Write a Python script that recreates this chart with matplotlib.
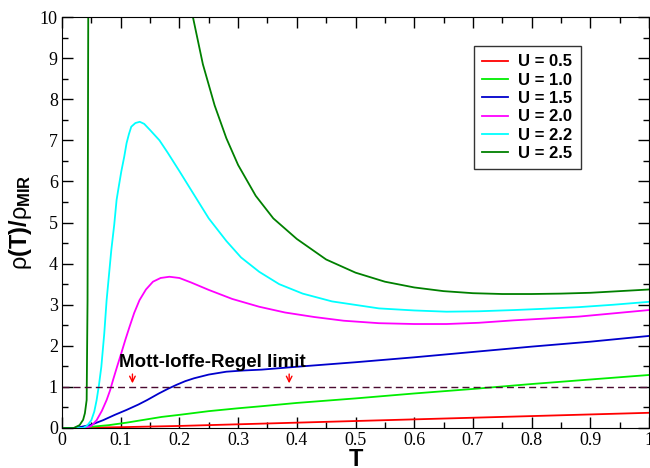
import matplotlib
matplotlib.use("Agg")
import matplotlib.pyplot as plt
from matplotlib.ticker import MultipleLocator

plt.rcParams['font.family'] = ['Liberation Serif', 'DejaVu Serif']
plt.rcParams['mathtext.fontset'] = 'custom'
plt.rcParams['mathtext.rm'] = 'Liberation Sans'
plt.rcParams['mathtext.bf'] = 'Liberation Sans:bold'
plt.rcParams['mathtext.it'] = 'Liberation Sans'

# rho(T)/rho_MIR, for each U
T_05 = [0.0, 0.03, 0.05, 0.1, 0.2, 0.3, 0.4, 0.5, 0.6, 0.7, 0.8, 0.9, 1.0]
r_05 = [0.0, 0.0, 0.01, 0.02, 0.05, 0.09, 0.13, 0.17, 0.21, 0.25, 0.29, 0.33, 0.37]

T_10 = [0.0, 0.02, 0.05, 0.08, 0.11, 0.14, 0.17, 0.2, 0.25, 0.3, 0.34, 0.4, 0.5, 0.6,
        0.7, 0.8, 0.9, 1.0]
r_10 = [0.0, 0.0, 0.03, 0.07, 0.13, 0.2, 0.27, 0.32, 0.41, 0.48, 0.53, 0.61, 0.72, 0.84,
        0.95, 1.07, 1.18, 1.29]

T_15 = [0.0, 0.02, 0.03, 0.05, 0.07, 0.09, 0.11, 0.13, 0.145, 0.165, 0.18, 0.195, 0.21,
        0.225, 0.25, 0.28, 0.31, 0.34, 0.4, 0.5, 0.6, 0.7, 0.8, 0.9, 1.0]
r_15 = [0.0, 0.0, 0.02, 0.08, 0.19, 0.32, 0.44, 0.57, 0.68, 0.84, 0.95, 1.05, 1.14,
        1.21, 1.3, 1.37, 1.4, 1.42, 1.49, 1.6, 1.72, 1.85, 1.98, 2.1, 2.24]

T_20 = [0.0, 0.04, 0.05, 0.059, 0.068, 0.076, 0.082, 0.087, 0.094, 0.101, 0.108, 0.115,
        0.123, 0.132, 0.143, 0.155, 0.168, 0.183, 0.2, 0.22, 0.25, 0.29, 0.336, 0.38,
        0.43, 0.48, 0.54, 0.6, 0.655, 0.71, 0.77, 0.82, 0.88, 0.94, 1.0]
r_20 = [0.0, 0.0, 0.05, 0.19, 0.42, 0.68, 0.92, 1.17, 1.5, 1.82, 2.15, 2.46,
        2.8, 3.11, 3.37, 3.56, 3.65, 3.68, 3.65, 3.54, 3.36, 3.14, 2.95, 2.81,
        2.7, 2.61, 2.55, 2.53, 2.53, 2.56, 2.62, 2.66, 2.71, 2.79, 2.87]

T_22 = [0.0, 0.036, 0.043, 0.05, 0.055, 0.059, 0.063, 0.067, 0.072, 0.076, 0.08, 0.084,
        0.089, 0.093, 0.097, 0.101, 0.106, 0.11, 0.114, 0.118, 0.125, 0.1325, 0.14, 0.15,
        0.166, 0.18, 0.2, 0.223, 0.25, 0.28, 0.305, 0.336, 0.37, 0.41, 0.46, 0.54, 0.6,
        0.655, 0.71, 0.77, 0.82, 0.88, 0.94, 1.0]
r_22 = [0.0, 0.0, 0.06, 0.19, 0.4, 0.68, 1.05, 1.49, 2.3, 3.11, 3.72, 4.33,
        4.95, 5.55, 5.9, 6.24, 6.6, 6.93, 7.15, 7.33, 7.42, 7.45, 7.4, 7.25,
        7.0, 6.7, 6.25, 5.72, 5.1, 4.55, 4.15, 3.8, 3.5, 3.27, 3.08, 2.91, 2.86,
        2.83, 2.84, 2.87, 2.9, 2.94, 3.0, 3.07]

T_25 = [0.0, 0.02, 0.03, 0.036, 0.039, 0.042, 0.0435, 0.0447, 0.046, 0.05, 0.1, 0.15,
        0.2, 0.223, 0.24, 0.26, 0.28, 0.3, 0.33, 0.36, 0.4, 0.45, 0.5, 0.55, 0.6,
        0.65, 0.7, 0.75, 0.8, 0.85, 0.9, 0.95, 1.0]
r_25 = [0.0, 0.0, 0.07, 0.2, 0.36, 0.68, 3.1, 10.0, 14.0, 25.0, 40.0, 25.0,
        12.0, 10.0, 8.85, 7.85, 7.05, 6.4, 5.65, 5.1, 4.6, 4.1, 3.78, 3.56, 3.42,
        3.33, 3.28, 3.26, 3.26, 3.27, 3.29, 3.33, 3.37]

series = [
    (T_05, r_05, "U = 0.5", "#ff0000"),
    (T_10, r_10, "U = 1.0", "#00ee00"),
    (T_15, r_15, "U = 1.5", "#0000cc"),
    (T_20, r_20, "U = 2.0", "#ff00ff"),
    (T_22, r_22, "U = 2.2", "#00ffff"),
    (T_25, r_25, "U = 2.5", "#008000"),
]

mir_limit = 1.0
arrow_T = [0.12, 0.387]
x_ticklabels = ["0", "0.1", "0.2", "0.3", "0.4", "0.5", "0.6", "0.7", "0.8", "0.9", "1"]

fig = plt.figure(figsize=(6.5, 4.68), dpi=100)
ax = fig.add_axes([62 / 650, 1 - 428 / 468, 587 / 650, 411 / 468])

for T, r, lab, col in series:
    ax.plot(T, r, color=col, lw=1.3, label=lab)

ax.axhline(mir_limit, color="#4a0a30", lw=1.0, ls=(0, (5, 3)))
ax.text(0.097, 1.6, "Mott-Ioffe-Regel limit", fontsize=13.5, fontweight="bold",
        family="Liberation Sans", va="center", ha="left")
for xa in arrow_T:
    ax.annotate("", xy=(xa, 1.02), xytext=(xa, 1.38),
                arrowprops=dict(arrowstyle="->", color="red", lw=1.0))

ax.set_xlim(0, 1)
ax.set_ylim(0, 10)
ax.xaxis.set_minor_locator(MultipleLocator(0.05))
ax.yaxis.set_major_locator(MultipleLocator(1))
ax.yaxis.set_minor_locator(MultipleLocator(0.5))
ax.set_xticks([i / 10 for i in range(11)])
ax.set_xticklabels(x_ticklabels)
ax.tick_params(which="both", direction="in", top=True, right=True, width=1.0,
               labelsize=13, pad=3)
ax.tick_params(which="major", length=8)
ax.tick_params(which="minor", length=4)

ax.set_xlabel("T", fontsize=17, fontweight="bold", family="Liberation Sans", labelpad=-1)
ax.set_ylabel(r"$\rho$(T)/$\rho_{\mathbf{MIR}}$", fontsize=17, fontweight="bold",
              family="Liberation Sans", labelpad=4)

leg = ax.legend(loc="upper left", bbox_to_anchor=(474 / 650, 1 - 46 / 468),
                bbox_transform=fig.transFigure, borderaxespad=0, fancybox=False,
                edgecolor="#333333", handlelength=1.55, handletextpad=0.6,
                labelspacing=0.2, borderpad=0.5,
                prop={"family": "Liberation Sans", "weight": "bold", "size": 12})
leg.get_frame().set_linewidth(1.0)
leg.get_frame().set_alpha(1)

fig.savefig("out.png", dpi=100)
